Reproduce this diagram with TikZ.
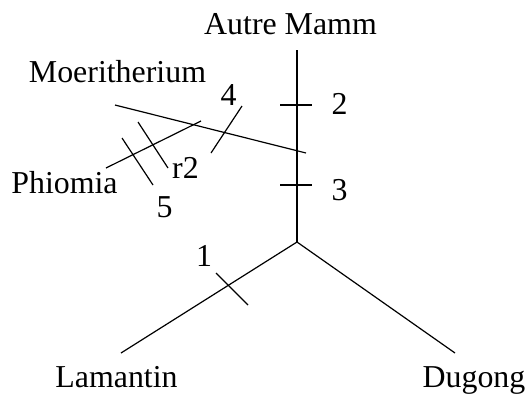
\documentclass[tikz,border=0pt]{standalone}
\usepackage{fontspec}
\setmainfont{Liberation Serif}
\begin{document}
\begin{tikzpicture}[x=1bp,y=-1bp,
  edge/.style={line width=1.2bp, line cap=butt},
  lbl/.style={anchor=base, inner sep=0pt, font=\fontsize{32}{36}\selectfont}]
\useasboundingbox (0,0) rectangle (529,395);
% tree vertices
\coordinate (top) at (297,50);
\coordinate (root) at (297,242);
\coordinate (lam) at (121,353);
\coordinate (dug) at (455,353);
\coordinate (moeA) at (115,105);
\coordinate (moeB) at (306,153);
\coordinate (phiA) at (106,168);
\coordinate (phiB) at (201,121);
% tick ends
\coordinate (t2a) at (280,105); \coordinate (t2b) at (312,105);
\coordinate (t3a) at (280,185); \coordinate (t3b) at (312,185);
\coordinate (t1a) at (216,273); \coordinate (t1b) at (248,305);
\coordinate (t4a) at (242,106); \coordinate (t4b) at (211,153);
\coordinate (tra) at (138,122); \coordinate (trb) at (168,168);
\coordinate (t5a) at (122,138); \coordinate (t5b) at (153,185);
% branches
\draw[edge] (top) -- (root);
\draw[edge] (root) -- (lam);
\draw[edge] (root) -- (dug);
\draw[edge] (moeA) -- (moeB);
\draw[edge] (phiA) -- (phiB);
% ticks
\draw[edge] (t2a) -- (t2b);
\draw[edge] (t3a) -- (t3b);
\draw[edge] (t1a) -- (t1b);
\draw[edge] (t4a) -- (t4b);
\draw[edge] (tra) -- (trb);
\draw[edge] (t5a) -- (t5b);
% labels
\node[lbl] (nAutre) at (290.5,34) {Autre Mamm};
\node[lbl] (nMoe) at (117.5,82) {Moeritherium};
\node[lbl] (nPhi) at (64.5,193) {Phiomia};
\node[lbl] (nLam) at (116.5,387) {Lamantin};
\node[lbl] (nDug) at (474,387) {Dugong};
\node[lbl] (n1) at (204,266) {1};
\node[lbl] (n2) at (339.5,114) {2};
\node[lbl] (n3) at (339.5,200.5) {3};
\node[lbl] (n4) at (228.5,105) {4};
\node[lbl] (nr2) at (185.5,178) {r2};
\node[lbl] (n5) at (164.5,217) {5};
\end{tikzpicture}
\end{document}
